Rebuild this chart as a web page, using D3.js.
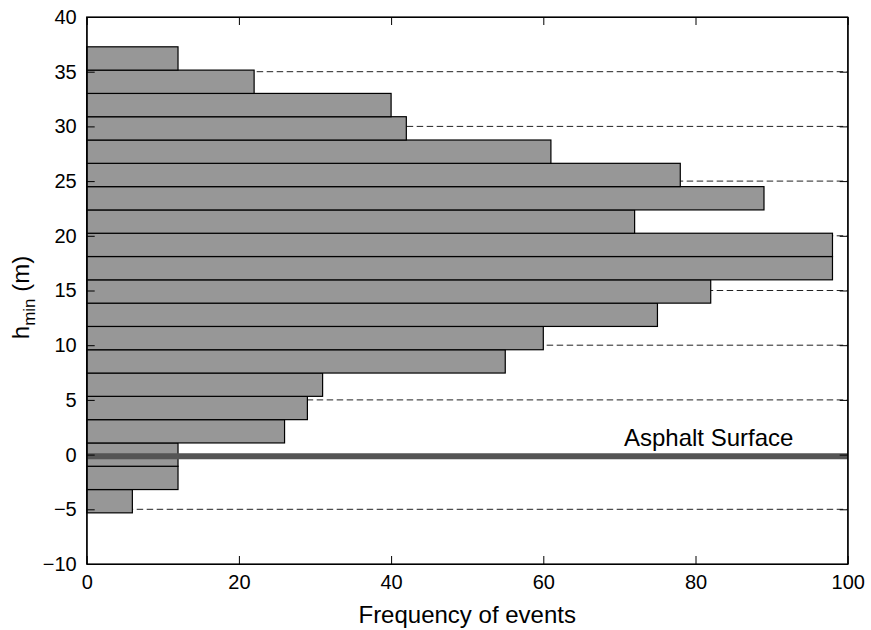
<!DOCTYPE html>
<html>
<head>
<meta charset="utf-8">
<script src="https://cdn.jsdelivr.net/npm/d3@7"></script>
<style>
  body { margin: 0; background: #fff; }
  svg { display: block; font-family: "Liberation Sans", Arial, Helvetica, sans-serif; }
  .axis path, .axis line { stroke: #000; }
  .axis text { font-size: 20px; fill: #000; }
</style>
</head>
<body>
<div id="chart"></div>
<script>
// CONST and GLOBALS
const width = 871,
  height = 630,
  margin = { top: 17, right: 23.3, bottom: 66, left: 86.7 };

// histogram bins (h_min in m, bin centres) and counts, bottom to top
const binCenters = [-4.26, -2.13, 0, 2.13, 4.26, 6.39, 8.52, 10.65, 12.78, 14.91,
  17.04, 19.17, 21.3, 23.43, 25.56, 27.69, 29.82, 31.95, 34.08, 36.21];
const binWidth = 2.13;
const counts = [6, 12, 12, 26, 29, 31, 55, 60, 75, 82,
  98, 98, 72, 89, 78, 61, 42, 40, 22, 12];

const xTicks = [0, 20, 40, 60, 80, 100];
const yTicks = [-10, -5, 0, 5, 10, 15, 20, 25, 30, 35, 40];
const asphaltLevel = -0.15;
const asphaltLabel = "Asphalt Surface";

const bins = binCenters.map((c, i) => ({ lo: c - binWidth / 2, hi: c + binWidth / 2, n: counts[i] }));

const svg = d3.select("#chart").append("svg")
  .attr("width", width)
  .attr("height", height);

// SCALES
const x = d3.scaleLinear().domain([0, 100]).range([margin.left, width - margin.right]);
const y = d3.scaleLinear().domain([-10, 40]).range([height - margin.bottom, margin.top]);

// dashed grid lines (behind the bars)
svg.append("g")
  .selectAll("line")
  .data(yTicks.filter((d) => d > -10 && d < 40))
  .join("line")
  .attr("x1", x(0))
  .attr("x2", x(100))
  .attr("y1", (d) => y(d))
  .attr("y2", (d) => y(d))
  .attr("stroke", "#222")
  .attr("stroke-width", 1)
  .attr("stroke-dasharray", "6.5,3.5");

// bars
svg.append("g")
  .selectAll("rect")
  .data(bins)
  .join("rect")
  .attr("x", x(0))
  .attr("y", (d) => y(d.hi))
  .attr("width", (d) => x(d.n) - x(0))
  .attr("height", (d) => y(d.lo) - y(d.hi))
  .attr("fill", "#979797")
  .attr("stroke", "#000")
  .attr("stroke-width", 1.2);

// asphalt surface line
svg.append("line")
  .attr("x1", x(0))
  .attr("x2", x(100))
  .attr("y1", y(asphaltLevel))
  .attr("y2", y(asphaltLevel))
  .attr("stroke", "#555")
  .attr("stroke-width", 6);

svg.append("text")
  .attr("x", x(70.6))
  .attr("y", y(asphaltLevel) - 10)
  .attr("font-size", 24)
  .text(asphaltLabel);

// AXES
const fmt = d3.format("");
svg.append("g")
  .attr("class", "axis")
  .attr("transform", `translate(0,${height - margin.bottom})`)
  .call(d3.axisBottom(x).tickValues(xTicks).tickFormat(fmt).tickSizeInner(-8).tickSizeOuter(0).tickPadding(11));

svg.append("g")
  .attr("class", "axis")
  .attr("transform", `translate(0,${margin.top})`)
  .call(d3.axisTop(x).tickValues(xTicks).tickFormat("").tickSizeInner(-8).tickSizeOuter(0));

svg.append("g")
  .attr("class", "axis")
  .attr("transform", `translate(${margin.left},0)`)
  .call(d3.axisLeft(y).tickValues(yTicks).tickFormat(d3.format("")).tickSizeInner(-8).tickSizeOuter(0).tickPadding(10));

svg.append("g")
  .attr("class", "axis")
  .attr("transform", `translate(${width - margin.right},0)`)
  .call(d3.axisRight(y).tickValues(yTicks).tickFormat("").tickSizeInner(-8).tickSizeOuter(0));

// frame
svg.append("rect")
  .attr("x", x(0))
  .attr("y", y(40))
  .attr("width", x(100) - x(0))
  .attr("height", y(-10) - y(40))
  .attr("fill", "none")
  .attr("stroke", "#000")
  .attr("stroke-width", 1.2);

// axis labels
svg.append("text")
  .attr("x", (x(0) + x(100)) / 2)
  .attr("y", 623)
  .attr("text-anchor", "middle")
  .attr("font-size", 24)
  .text("Frequency of events");

const yl = svg.append("text")
  .attr("transform", `translate(29,${(y(-10) + y(40)) / 2 + 7}) rotate(-90)`)
  .attr("text-anchor", "middle")
  .attr("font-size", 24);
yl.append("tspan").text("h");
yl.append("tspan").attr("font-size", 17).attr("dy", 6).text("min");
yl.append("tspan").attr("dy", -6).text(" (m)");
</script>
</body>
</html>
